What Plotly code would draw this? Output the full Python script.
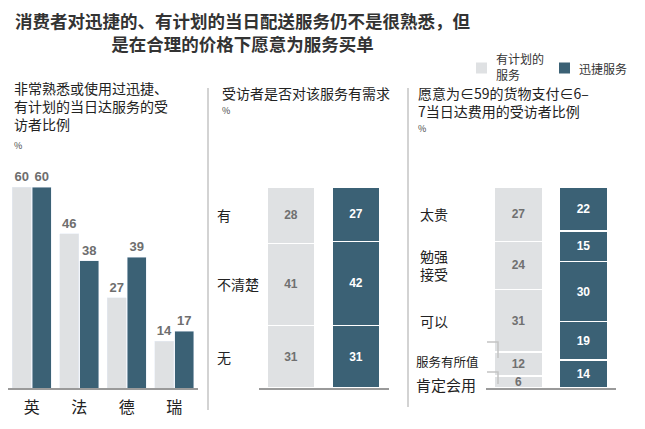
# Consumidores e entrega no mesmo dia - 3 paineis

import plotly.graph_objects as go

# a pagina tem 8px de margem no body: figura um pouco menor que a janela
W, H = 637, 421
OFF = 8

# painel 1: familiaridade por pais
paises = ['英', '法', '德', '瑞']
familiar_planejado = [60, 46, 27, 14]
familiar_rapido = [60, 38, 39, 17]

# painel 2: demanda (de cima para baixo)
servicos = ['有计划的服务', '迅捷服务']
demanda_cat = ['有', '不清楚', '无']
demanda_planejado = [28, 41, 31]
demanda_rapido = [27, 42, 31]

# painel 3: disposicao a pagar (de cima para baixo)
preco_cat = ['太贵', '勉强<br>接受', '可以', '服务有所值', '肯定会用']
preco_planejado = [27, 24, 31, 12, 6]
preco_rapido = [22, 15, 30, 19, 14]

CLARO = '#dfe1e3'
ESCURO = '#3b6175'
FONTE = 'Noto Sans CJK SC'
NUM = 'Liberation Sans, Arial'


def px(x):
    return (x - OFF) / W


def py(y):
    return 1 - (y - OFF) / H


def centros(vals):
    # centro de cada segmento, empilhado de cima para baixo
    total = sum(vals)
    out = []
    acc = 0
    for v in vals:
        out.append(total - acc - v / 2)
        acc += v
    return out


fig = go.Figure()

# painel 1
fig.add_trace(go.Bar(name='有计划的服务', x=paises, y=familiar_planejado,
                     xaxis='x', yaxis='y', marker_color=CLARO,
                     offset=-0.41, width=0.40,
                     text=familiar_planejado, textposition='outside',
                     textfont=dict(color='#6e6e6e', size=13, family=NUM, weight='bold'),
                     cliponaxis=False))
fig.add_trace(go.Bar(name='迅捷服务', x=paises, y=familiar_rapido,
                     xaxis='x', yaxis='y4', marker_color=ESCURO,
                     offset=0.01, width=0.40,
                     text=familiar_rapido, textposition='outside',
                     textfont=dict(color='#6e6e6e', size=13, family=NUM, weight='bold'),
                     cliponaxis=False))


def empilha(cats, claro, escuro, xa, ya):
    # plotly empilha do primeiro (base) para o ultimo (topo)
    for c, a, b in reversed(list(zip(cats, claro, escuro))):
        fig.add_trace(go.Bar(name=c, x=servicos, y=[a, b], xaxis=xa, yaxis=ya,
                             marker=dict(color=[CLARO, ESCURO],
                                         line=dict(color='white', width=1.5)),
                             width=0.74, text=[str(a), str(b)],
                             textposition='inside', insidetextanchor='middle',
                             constraintext='none', textangle=0,
                             textfont=dict(color=['#707070', 'white'], size=12,
                                           family=NUM, weight='bold'),
                             cliponaxis=False))


empilha(demanda_cat, demanda_planejado, demanda_rapido, 'x2', 'y2')
empilha(preco_cat, preco_planejado, preco_rapido, 'x3', 'y3')

dom_y = [py(388), py(187)]
eixo_x = dict(type='category', showline=True, linecolor='#9a9a9a', linewidth=2,
              ticks='', showgrid=False, zeroline=False, fixedrange=True)

fig.update_layout(
    width=W, height=H, autosize=False,
    margin=dict(l=0, r=0, t=0, b=0),
    paper_bgcolor='white', plot_bgcolor='white',
    font=dict(family=FONTE, color='#222'),
    barmode='stack',
    showlegend=False,
    xaxis=dict(eixo_x, domain=[px(8), px(198)], anchor='y', range=[-0.5, 3.5],
               tickfont=dict(size=16, color='#222'), ticklabelstandoff=4),
    yaxis=dict(domain=dom_y, range=[0, 60], visible=False, anchor='x'),
    yaxis4=dict(range=[0, 60], visible=False, overlaying='y', anchor='x'),
    xaxis2=dict(eixo_x, domain=[px(258.5), px(388.5)], anchor='y2', range=[-0.5, 1.5],
                showticklabels=False),
    yaxis2=dict(domain=dom_y, range=[0, 100], visible=False, anchor='x2'),
    xaxis3=dict(eixo_x, domain=[px(486), px(616)], anchor='y3', range=[-0.5, 1.5],
                showticklabels=False),
    yaxis3=dict(domain=dom_y, range=[0, 100], visible=False, anchor='x3'),
)

anot = []
anot.append(dict(text='<b>消费者对迅捷的、有计划的当日配送服务仍不是很熟悉，但<br>是在合理的价格下愿意为服务买单</b>',
                 x=px(242), y=py(32), xanchor='center', yanchor='middle',
                 font=dict(size=17.5, color='#333')))
# legenda
anot.append(dict(text='有计划的<br>服务', x=px(494), y=py(66.5), xanchor='left',
                 yanchor='middle', align='left', font=dict(size=12, color='#333')))
anot.append(dict(text='迅捷服务', x=px(577), y=py(68), xanchor='left',
                 yanchor='middle', font=dict(size=12, color='#333')))

anot.append(dict(text='非常熟悉或使用过迅捷、<br>有计划的当日达服务的受<br>访者比例',
                 x=px(12), y=py(106), xanchor='left', yanchor='middle', align='left',
                 font=dict(size=14, color='#222')))
anot.append(dict(text='受访者是否对该服务有需求', x=px(220), y=py(93),
                 xanchor='left', yanchor='middle', font=dict(size=14, color='#222')))
anot.append(dict(text='愿意为∈59的货物支付∈6–<br>7当日达费用的受访者比例',
                 x=px(416), y=py(102), xanchor='left', yanchor='middle', align='left',
                 font=dict(size=14, color='#222')))
for xx, yy in [(12, 145), (220, 110), (416, 128)]:
    anot.append(dict(text='%', x=px(xx), y=py(yy), xanchor='left', yanchor='middle',
                     font=dict(size=9, color='#444')))

for c, yc in zip(demanda_cat, centros(demanda_planejado)):
    anot.append(dict(text=c, x=px(215), y=yc, yref='y2', xanchor='left', yanchor='middle',
                     font=dict(size=14, color='#222')))

tam = [14, 14, 14, 12.5, 15]
desloc = [0, 0, 0, 2, -3]
for c, yc, s, d in zip(preco_cat, centros(preco_planejado), tam, desloc):
    xx = 418 if s == 14 else 414
    anot.append(dict(text=c, x=px(xx), y=yc, yref='y3', yshift=d, xanchor='left',
                     yanchor='middle', align='left', font=dict(size=s, color='#222')))

for a in anot:
    a.setdefault('xref', 'paper')
    a.setdefault('yref', 'paper')
    a['showarrow'] = False
fig.update_layout(annotations=anot)

# linhas divisorias, pequenas chaves do painel 3 e quadrados da legenda
linhas = [
    dict(type='line', x0=px(208), x1=px(208), y0=py(88), y1=py(410)),
    dict(type='line', x0=px(408), x1=px(408), y0=py(88), y1=py(407)),
    dict(type='path', path=f'M {px(487)} {py(342)} L {px(498)} {py(342)} L {px(498)} {py(358)}'),
    dict(type='path', path=f'M {px(487)} {py(372)} L {px(498)} {py(372)} L {px(498)} {py(384)}'),
]
for l in linhas:
    l.update(xref='paper', yref='paper', line=dict(color='#c4c4c4', width=1.5))
for x0, cor in [(476, CLARO), (559, ESCURO)]:
    linhas.append(dict(type='rect', xref='paper', yref='paper',
                       x0=px(x0), x1=px(x0 + 11), y0=py(62.5), y1=py(73.5),
                       fillcolor=cor, line=dict(width=0)))
fig.update_layout(shapes=linhas)

fig.write_html("out.html")
